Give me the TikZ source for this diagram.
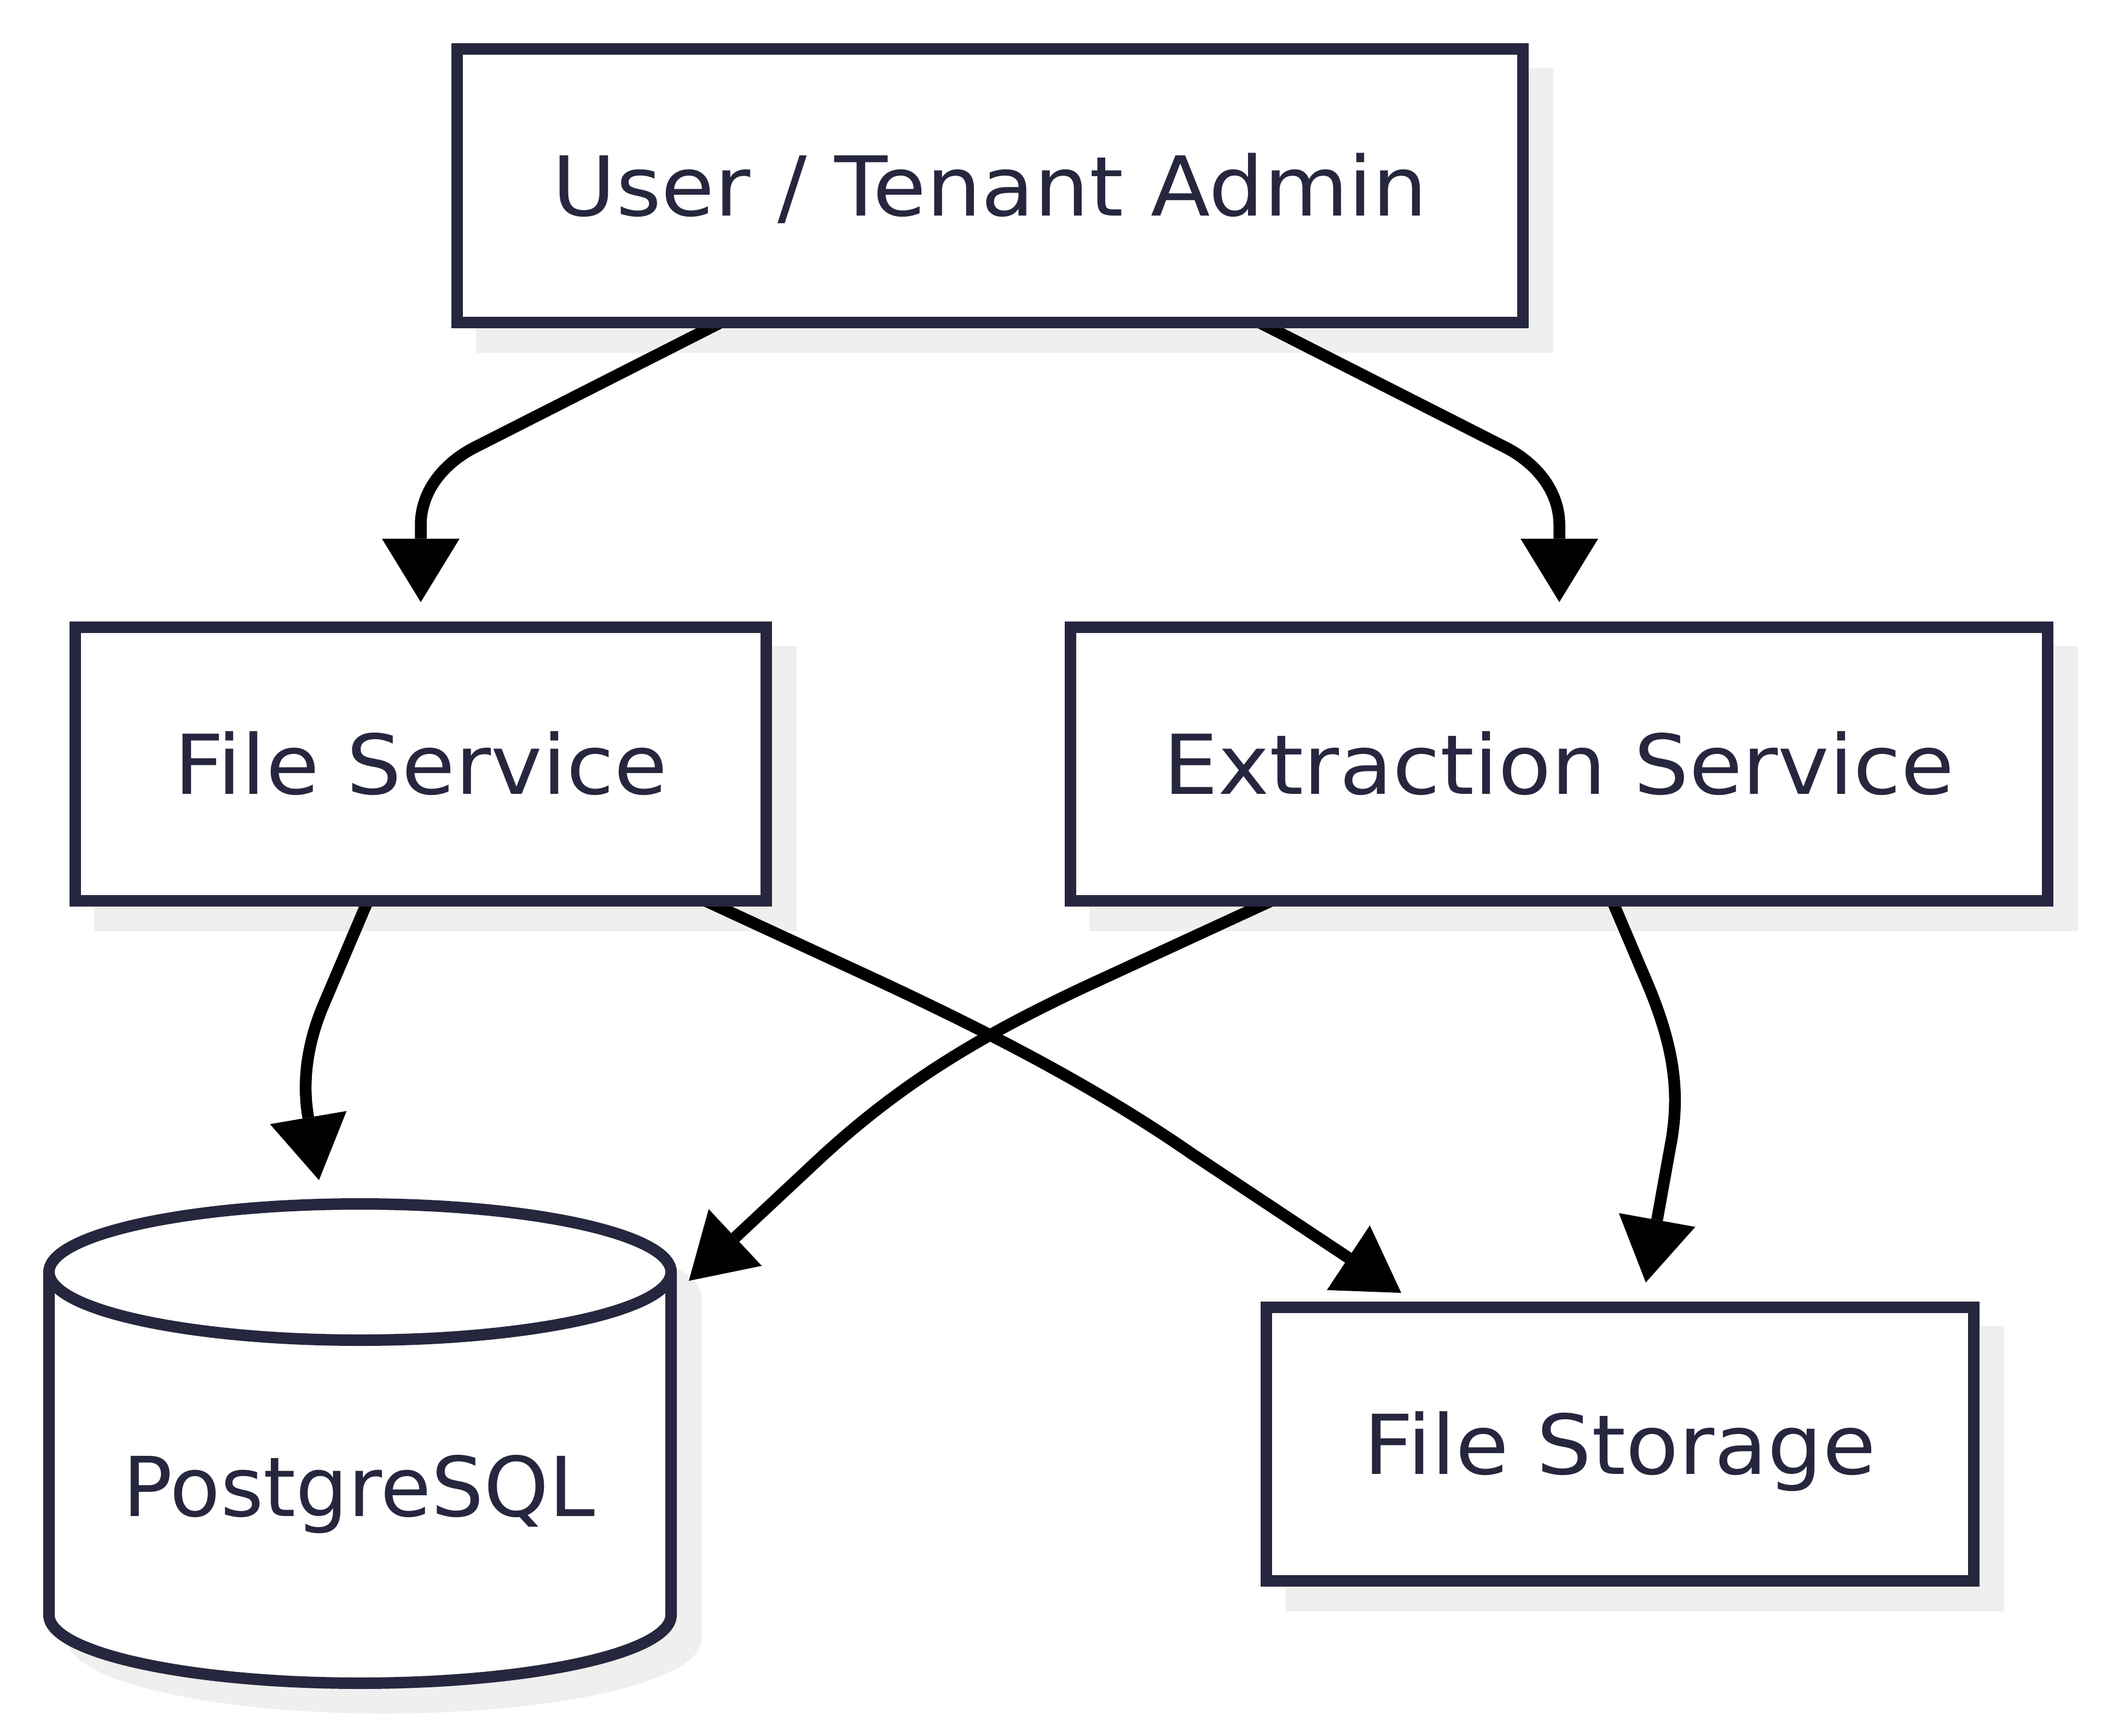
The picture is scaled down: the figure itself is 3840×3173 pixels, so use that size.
\documentclass[tikz,border=0pt]{standalone}
\usepackage{fontspec}
\setmainfont{DejaVu Sans}
\newfontfamily\wideface[FakeStretch=1.05]{DejaVu Sans}
\usetikzlibrary{arrows.meta,calc,backgrounds}
\pgfdeclarelayer{edgelayer}
\pgfsetlayers{background,edgelayer,main}
\definecolor{navy}{RGB}{38,39,62}
\definecolor{shadowgray}{RGB}{239,239,239}
\newcommand{\lblfont}{\wideface\fontsize{30.2pt}{36pt}\selectfont}
\newcommand{\pgfont}{\fontsize{30.2pt}{36pt}\selectfont}
\tikzset{
  box/.style={draw=navy, fill=white, line width=4.2pt, text=navy, font=\lblfont,
    text height=22pt, text depth=0pt, inner sep=0pt, minimum height=100pt},
  lbl/.style={text=navy, font=\pgfont, text height=22pt, text depth=0pt, inner sep=0pt},
  edge/.style={draw=black, line width=4.3pt,
    -{Triangle[length=23.2pt,width=28.4pt,line width=0pt]}},
  cyl/.style={draw=navy, line width=4.2pt, line join=round},
}
\begin{document}
\begin{tikzpicture}[x=0.2pt,y=-0.2pt]
\useasboundingbox (0,0) rectangle (3840,3173);
% boxes
\node[box, minimum width=389.6pt] (admin) at (1809.5,339.5) {User / Tenant Admin};
\node[box, minimum width=252.6pt] (fs) at (769,1396) {File Service};
\node[box, minimum width=357.2pt] (ex) at (2849.5,1396) {Extraction Service};
\node[box, minimum width=258.6pt] (st) at (2961,2639.5) {File Storage};
% cylinder (PostgreSQL)
\node[minimum width=231.6pt, minimum height=179.4pt, inner sep=0pt, outer sep=0pt] (pg) at (658,2638.5) {};
\fill[white] (658,2325) ellipse [x radius=115.8pt, y radius=27pt]
  (79,2325) rectangle (1237,2952)
  (658,2952) ellipse [x radius=115.8pt, y radius=27pt];
\draw[cyl] (658,2325) ellipse [x radius=113.7pt, y radius=24.9pt];
\draw[cyl] (89.5,2325) -- (89.5,2952) .. controls (89.5,3020.8) and (344.5,3076.5) .. (658,3076.5)
  .. controls (971.5,3076.5) and (1226.5,3020.8) .. (1226.5,2952) -- (1226.5,2325);
\node[lbl] (pglabel) at (656,2716) {PostgreSQL};
% shadows and background
\begin{scope}[on background layer]
  \fill[white] (0,0) rectangle (3840,3173);
  \foreach \n in {admin,fs,ex,st}{
    \fill[shadowgray] ($(\n.south west)+(45,45)$) rectangle ($(\n.north east)+(45,45)$);
  }
  \fill[shadowgray] (703,2370) ellipse [x radius=115.8pt, y radius=27pt]
    (124,2370) rectangle (1282,2997)
    (703,2997) ellipse [x radius=115.8pt, y radius=27pt];
\end{scope}
% connectors (below the boxes, so they are cut by the box borders)
\begin{pgfonlayer}{edgelayer}
\draw[edge] ($(admin.south)+(-454,-30)$) -- (867,818) .. controls (818,843) and (769,892) .. (769,960)
  -- ($(fs.north)+(0,-35)$);
\draw[edge] ($(admin.south)+(454,-30)$) -- (2752,818) .. controls (2801,843) and (2850,892) .. (2850,960)
  -- ($(ex.north)+(0.5,-35)$);
\draw[edge] ($(fs.south)+(-88.2,-30)$) -- (592,1835) .. controls (562,1905) and (552,1975) .. (563,2040)
  -- ($(pg.north)+(-75,-33)$);
\draw[edge] ($(fs.south)+(477.3,-30)$) -- (1600,1790) .. controls (1800,1883) and (2000,1985) .. (2180,2110)
  -- ($(st.north west)+(257,-16)$);
\draw[edge] ($(ex.south)+(-482.7,-30)$) -- (1980,1805) .. controls (1800,1890) and (1650,1975) .. (1490,2125)
  -- ($(pg.north east)+(22,151)$);
\draw[edge] ($(ex.south)+(88.7,-30)$) -- (3012,1800) .. controls (3060,1915) and (3072,2000) .. (3052,2100)
  -- ($(st.north)+(47,-35)$);
\end{pgfonlayer}
\end{tikzpicture}
\end{document}
